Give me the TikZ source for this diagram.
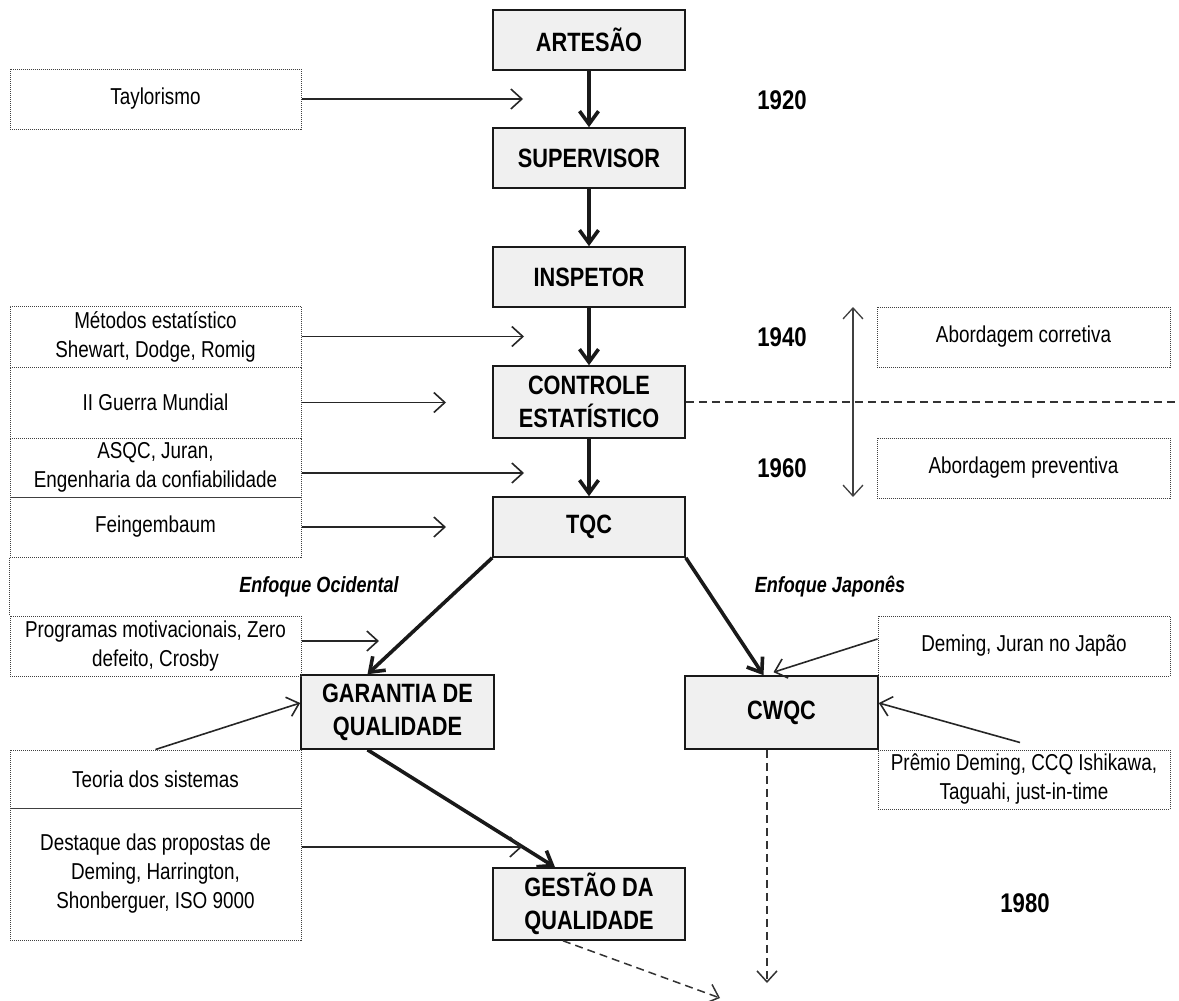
\documentclass[tikz,border=0pt]{standalone}
\usepackage{fontspec}
\setmainfont{Liberation Sans}[FakeStretch=0.82]
\usetikzlibrary{arrows.meta,positioning}
\tikzset{>={Straight Barb[length=11pt,width=20pt]}}
\colorlet{penColor}{black!90}
\colorlet{fill1}{black!6}
\colorlet{noteColor}{black!75}

\begin{document}
\begin{tikzpicture}[x=1pt,y=-1pt,
    mainbox/.style={draw=penColor,line width=1.6pt,fill=fill1,minimum width=192pt,inner sep=0pt,align=center,font=\fontsize{26.5}{33}\selectfont\bfseries},
    notebox/.style={draw=noteColor,densely dotted,line width=1pt,minimum width=291pt,inner sep=0pt,align=center,font=\fontsize{23}{29}\selectfont},
    flow/.style={->,>={Straight Barb[length=13pt,width=19pt]},line width=3.6pt,penColor},
    feed/.style={->,line width=1.6pt,black!85},
    later/.style={->,dashed,dash pattern=on 8pt off 5pt,line width=1.5pt,black!80},
    year/.style={font=\fontsize{27}{33}\selectfont\bfseries},
    enfoque/.style={font=\fontsize{22}{27}\selectfont\bfseries\itshape}]
      \useasboundingbox (0,0) rectangle (1179,1001);
      % main chain
      \node [mainbox,minimum height=60pt] (artesao) at (589,40) {ARTESÃO};
      \node [mainbox,minimum height=60pt] (supervisor) at (589,158) {SUPERVISOR};
      \node [mainbox,minimum height=60pt] (inspetor) at (589,277) {INSPETOR};
      \node [mainbox,minimum height=72pt] (controle) at (589,402) {CONTROLE\\ESTATÍSTICO};
      \node [mainbox,minimum height=60pt] (tqc) at (589,527) {TQC};
      \node [mainbox,minimum width=193pt,minimum height=74pt] (garantia) at (397.5,712) {GARANTIA DE\\QUALIDADE};
      \node [mainbox,minimum width=193pt,minimum height=73pt] (cwqc) at (781.5,712.5) {CWQC};
      \node [mainbox,minimum height=72pt] (gestao) at (589,904) {GESTÃO DA\\QUALIDADE};
      % notes on the left
      \node [notebox,minimum height=60pt] (taylor) at (155.5,99) {Taylorismo};
      \node [notebox,minimum height=61pt] (metodos) at (155.5,336.5) {Métodos estatístico\\Shewart, Dodge, Romig};
      \node [notebox,minimum height=71pt] (guerra) at (155.5,402.5) {II Guerra Mundial};
      \node [notebox,minimum height=59pt] (asqc) at (155.5,467.5) {ASQC, Juran,\\Engenharia da confiabilidade};
      \node [notebox,minimum height=60pt] (feigen) at (155.5,527) {Feingembaum};
      \node [notebox,minimum height=60pt] (programas) at (155.5,646) {Programas motivacionais, Zero\\defeito, Crosby};
      \node [notebox,minimum height=58pt] (teoria) at (155.5,779) {Teoria dos sistemas};
      \node [notebox,minimum height=132pt] (destaque) at (155.5,874) {Destaque das propostas de\\Deming, Harrington,\\Shonberguer, ISO 9000};
      \draw [noteColor,densely dotted,line width=1pt] (feigen.south west) -- (programas.north west);
      % notes on the right
      \node [notebox,minimum width=293pt,minimum height=60pt] (corretiva) at (1023.5,337) {Abordagem corretiva};
      \node [notebox,minimum width=293pt,minimum height=60pt] (preventiva) at (1023.5,468) {Abordagem preventiva};
      \node [notebox,minimum width=292pt,minimum height=60pt] (japao) at (1024,646) {Deming, Juran no Japão};
      \node [notebox,minimum width=292pt,minimum height=59pt] (premio) at (1024,779.5) {Prêmio Deming, CCQ Ishikawa,\\Taguahi, just-in-time};
      % years and labels
      \node [year] (y1920) at (782,100) {1920};
      \node [year] (y1940) at (782,337) {1940};
      \node [year] (y1960) at (782,468) {1960};
      \node [year] (y1980) at (1025,903) {1980};
      \node [enfoque] (ocidental) at (319,587) {Enfoque Ocidental};
      \node [enfoque] (japones) at (830,587) {Enfoque Japonês};
      % free ends
      \coordinate (tTaylor) at (523,99);
      \coordinate (tMetodos) at (524,336.5);
      \coordinate (tGuerra) at (446,402.5);
      \coordinate (tAsqc) at (524,473);
      \coordinate (tFeigen) at (446,527);
      \coordinate (tProgramas) at (379,641);
      \coordinate (tDestaque) at (522,847);
      \coordinate (edge) at (1179,402);
      \coordinate (axisTop) at (853,307);
      \coordinate (axisBottom) at (853,497);
      \coordinate (endGestao) at (720,998);
      \coordinate (endCwqc) at (767,983);
      % flow
      \draw [flow] (artesao) -- (supervisor);
      \draw [flow] (supervisor) -- (inspetor);
      \draw [flow] (inspetor) -- (controle);
      \draw [flow] (controle) -- (tqc);
      \draw [flow] (tqc.south west) -- ([xshift=-30pt]garantia.north);
      \draw [flow] (tqc.south east) -- ([xshift=-18pt]cwqc.north);
      \draw [flow] ([xshift=-30pt]garantia.south) -- ([xshift=-34pt]gestao.north);
      % influences
      \draw [feed] (taylor.east) -- (tTaylor);
      \draw [feed] (metodos.east) -- (tMetodos);
      \draw [feed] (guerra.east) -- (tGuerra);
      \draw [feed] ([yshift=-5.5pt]asqc.east) -- (tAsqc);
      \draw [feed] (feigen.east) -- (tFeigen);
      \draw [feed] ([yshift=5pt]programas.east) -- (tProgramas);
      \draw [feed] (teoria.north) -- ([yshift=9pt]garantia.west);
      \draw [feed] ([yshift=27pt]destaque.east) -- (tDestaque);
      \draw [feed] ([yshift=7pt]japao.west) -- ([xshift=-8pt,yshift=3pt]cwqc.north);
      \draw [feed] ([xshift=-4pt,yshift=7pt]premio.north) -- ([yshift=9.5pt]cwqc.east);
      % periods
      \draw [black!80,dashed,dash pattern=on 8pt off 5pt,line width=1.5pt] (controle.east) -- (edge);
      \draw [<->,line width=1.3pt,black!75] (axisTop) -- (axisBottom);
      \draw [later] ([xshift=-26pt]gestao.south) -- (endGestao);
      \draw [later] ([xshift=-14.5pt]cwqc.south) -- (endCwqc);
\end{tikzpicture}
\end{document}
